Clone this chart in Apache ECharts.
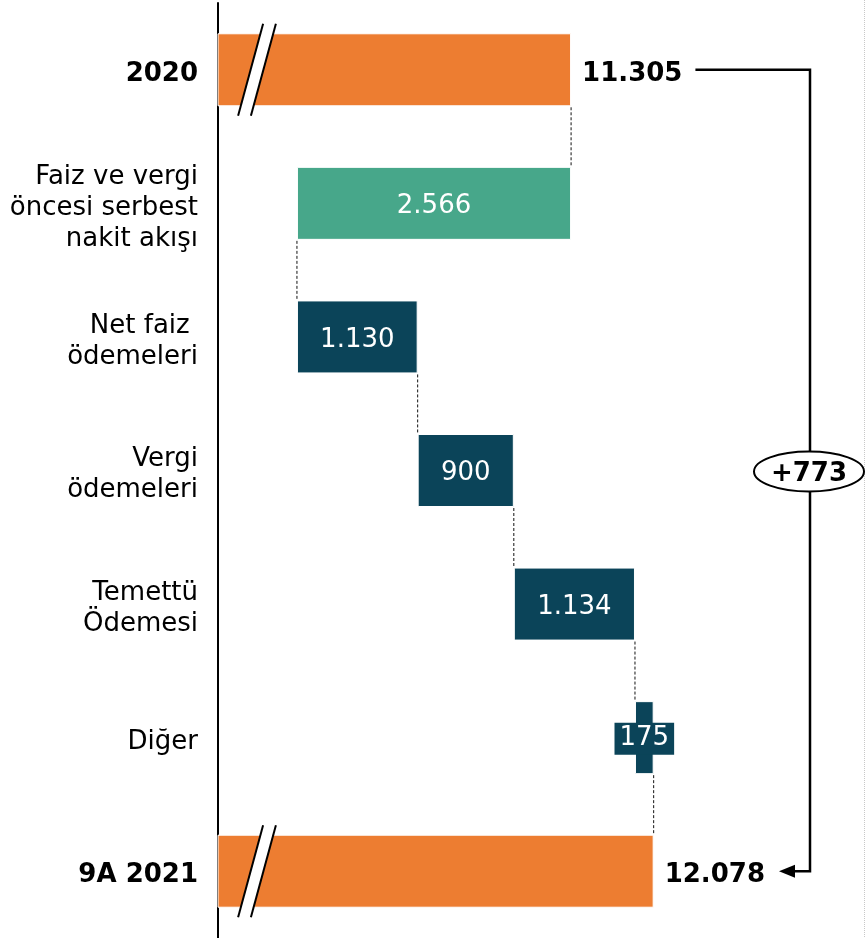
<!DOCTYPE html>
<html>
<head>
<meta charset="utf-8">
<script src="https://cdn.jsdelivr.net/npm/echarts@6/dist/echarts.min.js"></script>
<style>
html,body{margin:0;padding:0;background:#fff}
#chart{width:866px;height:938px}
</style>
</head>
<body>
<div id="chart"></div>
<script>
// kategoriler (yukaridan asagiya)
const categories = ['2020', 'Faiz ve vergi\nöncesi serbest\nnakit akışı', 'Net faiz \nödemeleri', 'Vergi\nödemeleri', 'Temettü\nÖdemesi', 'Diğer', '9A 2021'];
const startValue = 11305;
const changes = [-2566, 1130, 900, 1134, 175];
const endValue = 12078;
const axisMin = 8000;
const axisMax = 14000;

const FONT = '"DejaVu Sans", Verdana, sans-serif';
const ORANGE = '#ED7D31', GREEN = '#47A78A', DARK = '#0B4459';
const barWidth = 73;

const fmt = n => String(n).replace(/\B(?=(\d{3})+(?!\d))/g, '.');

const ctx = document.createElement('canvas').getContext('2d');
function textWidth(t) {
  ctx.font = 'bold 26px ' + FONT;
  return ctx.measureText(t).width;
}

// waterfall: gorunmez taban + gorunur bar
const totalLabel = {show: true, position: 'right', distance: 11, offset: [0, 4], color: '#000', fontWeight: 'bold', fontSize: 26, fontFamily: FONT};
let baseData = [0];
let barData = [{value: startValue, itemStyle: {color: ORANGE}, label: Object.assign({formatter: fmt(startValue)}, totalLabel)}];
let runTotals = [startValue];
let run = startValue;
changes.forEach(c => {
  baseData.push(c < 0 ? run + c : run);
  const lbl = {show: true, position: 'inside', offset: [0, 3], color: '#fff', fontSize: 26, fontFamily: FONT, formatter: fmt(Math.abs(c))};
  if (Math.abs(c) < 300) {
    lbl.backgroundColor = DARK;
    lbl.padding = [5, 5, 1, 5];
    lbl.lineHeight = 26;
    lbl.offset = [0, 1];
  }
  barData.push({value: Math.abs(c), itemStyle: {color: c < 0 ? GREEN : DARK}, label: lbl});
  run += c;
  runTotals.push(run);
});
baseData.push(0);
barData.push({value: endValue, itemStyle: {color: ORANGE}, label: Object.assign({formatter: fmt(endValue)}, totalLabel)});

const chart = echarts.init(document.getElementById('chart'));

chart.setOption({
  animation: false,
  backgroundColor: '#fff',
  grid: {left: 218, top: 3, width: 641, height: 936},
  xAxis: {type: 'value', min: axisMin, max: axisMax, show: false},
  yAxis: {
    type: 'category',
    inverse: true,
    data: categories,
    axisLine: {show: true, lineStyle: {color: '#000', width: 2}},
    axisTick: {show: false},
    axisLabel: {
      fontSize: 26, color: '#000', fontFamily: FONT, lineHeight: 31, margin: 20, padding: [9, 0, 0, 0],
      formatter: (v, i) => (i === 0 || i === categories.length - 1) ? '{b|' + v + '}' : v,
      rich: {b: {fontWeight: 'bold', fontSize: 26, fontFamily: FONT, color: '#000'}}
    }
  },
  graphic: [{type: 'line', shape: {x1: 864.5, y1: 0, x2: 864.5, y2: 938}, style: {stroke: '#c8c8c8', lineDash: [1, 1]}}],
  series: [
    {type: 'bar', stack: 'wf', barWidth: barWidth, silent: true, itemStyle: {color: 'transparent'}, data: baseData},
    {type: 'bar', stack: 'wf', barWidth: barWidth, itemStyle: {borderColor: '#fff', borderWidth: 1}, data: barData},
    {
      // kesikli baglanti cizgileri
      type: 'custom', silent: true, z: 3,
      encode: {x: 0, y: 1},
      data: runTotals.slice(0, categories.length - 1).map((v, i) => [v, i]),
      renderItem(params, api) {
        const i = api.value(1);
        const p = api.coord([api.value(0), i]);
        const band = api.size([0, 1])[1];
        const half = barWidth / 2;
        return {type: 'line', shape: {x1: p[0], y1: p[1] + half + 1, x2: p[0], y2: p[1] + band - half - 1},
          style: {stroke: '#111', lineWidth: 1, lineDash: [3, 2]}};
      }
    },
    {
      // eksen kirilma isaretleri
      type: 'custom', silent: true, z: 4,
      encode: {x: 0, y: 1},
      data: [[startValue, 0], [endValue, categories.length - 1]],
      renderItem(params, api) {
        const cy = api.coord([api.value(0), api.value(1)])[1];
        const cx = params.coordSys.x + 39;
        const h = 46, s = 12.5, g = 6.4;
        const a = [cx - g - s, cy + h], b = [cx - g + s, cy - h];
        const c = [cx + g + s, cy - h], d = [cx + g - s, cy + h];
        return {type: 'group', children: [
          {type: 'polygon', shape: {points: [a, b, c, d]}, style: {fill: '#fff'}},
          {type: 'line', shape: {x1: a[0], y1: a[1], x2: b[0], y2: b[1]}, style: {stroke: '#000', lineWidth: 2}},
          {type: 'line', shape: {x1: d[0], y1: d[1], x2: c[0], y2: c[1]}, style: {stroke: '#000', lineWidth: 2}}
        ]};
      }
    },
    {
      // sag taraftaki fark oku
      type: 'custom', silent: true, z: 5,
      encode: {x: 0, y: 1},
      data: [[endValue, categories.length - 1]],
      renderItem(params, api) {
        const top = api.coord([startValue, 0]);
        const bot = api.coord([endValue, categories.length - 1]);
        const bx = api.getWidth() - 56;
        const x1 = top[0] + 11 + textWidth(fmt(startValue)) + 13;
        const tip = bot[0] + 11 + textWidth(fmt(endValue)) + 14;
        const midY = (top[1] + bot[1]) / 2 + 1;
        return {type: 'group', children: [
          {type: 'polyline', shape: {points: [[x1, top[1]], [bx, top[1]], [bx, bot[1]], [tip + 12, bot[1]]]},
            style: {stroke: '#000', lineWidth: 2.5, fill: null}},
          {type: 'polygon', shape: {points: [[tip, bot[1]], [tip + 16, bot[1] - 6.5], [tip + 16, bot[1] + 6.5]]}, style: {fill: '#000'}},
          {type: 'ellipse', shape: {cx: bx - 1, cy: midY, rx: 55, ry: 20}, style: {fill: '#fff', stroke: '#000', lineWidth: 2}},
          {type: 'text', x: bx - 1, y: midY + 3, style: {text: '+' + fmt(endValue - startValue), fill: '#000',
            fontSize: 26, fontWeight: 'bold', fontFamily: FONT, align: 'center', verticalAlign: 'middle'}}
        ]};
      }
    }
  ]
});
</script>
</body>
</html>
